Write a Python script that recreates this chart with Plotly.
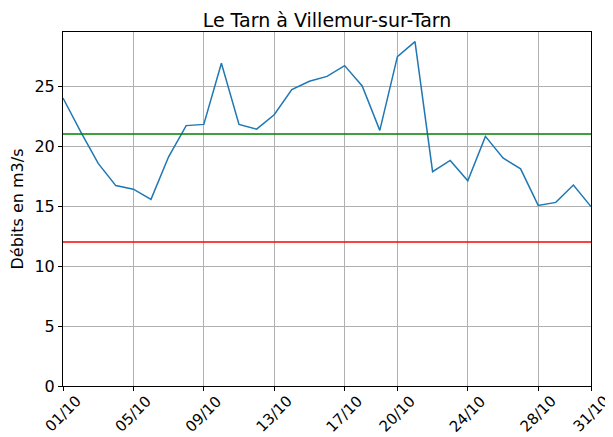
import plotly.graph_objects as go
import pandas as pd

dates = pd.date_range("2023-10-01", "2023-10-31", freq="D")
debits = [24.0, 21.2, 18.55, 16.7, 16.4, 15.55, 19.1, 21.7, 21.8, 26.9,
          21.8, 21.4, 22.6, 24.7, 25.4, 25.8, 26.7, 25.0, 21.3, 27.45,
          28.7, 17.86, 18.8, 17.1, 20.8, 19.0, 18.1, 15.05, 15.3, 16.75, 14.95]
seuil_haut = 21.0
seuil_bas = 12.0
tick_dates = ["2023-10-01", "2023-10-05", "2023-10-09", "2023-10-13", "2023-10-17",
              "2023-10-20", "2023-10-24", "2023-10-28", "2023-10-31"]
tick_labels = ["01/10", "05/10", "09/10", "13/10", "17/10", "20/10", "24/10", "28/10", "31/10"]
y_ticks = [0, 5, 10, 15, 20, 25]

font = "DejaVu Sans"
fig = go.Figure()
fig.add_trace(go.Scatter(x=dates, y=debits, mode="lines",
                         line=dict(color="#1f77b4", width=1.5), showlegend=False))
fig.add_trace(go.Scatter(x=[dates[0], dates[-1]], y=[seuil_haut, seuil_haut], mode="lines",
                         line=dict(color="green", width=1.5), showlegend=False))
fig.add_trace(go.Scatter(x=[dates[0], dates[-1]], y=[seuil_bas, seuil_bas], mode="lines",
                         line=dict(color="red", width=1.5), showlegend=False))

# rotated date labels, centred under their ticks (matplotlib style)
for d, lab in zip(tick_dates, tick_labels):
    fig.add_annotation(x=pd.Timestamp(d), xref="x", y=0, yref="paper",
                       text=lab, textangle=-45, showarrow=False,
                       xanchor="center", yanchor="top", yshift=-4,
                       font=dict(size=15, family=font, color="black"))

# page body has an 8px margin: the figure is sized to fill the rest of the window
fig.update_layout(
    width=605, height=429,
    margin=dict(l=55, r=22, t=24, b=51),
    paper_bgcolor="white", plot_bgcolor="white",
    font=dict(family=font, size=16, color="black"),
    title=dict(text="Le Tarn à Villemur-sur-Tarn", xref="paper", x=0.5, xanchor="center",
               y=0.972, yanchor="middle", automargin=False,
               font=dict(size=19, family=font, color="black")),
)
fig.update_xaxes(
    range=[dates[0], dates[-1]], automargin=False,
    tickvals=pd.to_datetime(tick_dates), showticklabels=False,
    showgrid=True, gridcolor="#b0b0b0", gridwidth=0.8,
    showline=True, linecolor="black", linewidth=1, mirror=True,
    ticks="outside", ticklen=4, tickcolor="black", zeroline=False,
)
fig.update_yaxes(
    range=[0, 29.5], tickvals=y_ticks, automargin=False,
    title=dict(text="Débits en m3/s", font=dict(size=16, family=font), standoff=8),
    showgrid=True, gridcolor="#b0b0b0", gridwidth=0.8,
    showline=True, linecolor="black", linewidth=1, mirror=True,
    ticks="outside", ticklen=4, tickcolor="black", zeroline=False,
    tickfont=dict(size=16, family=font),
)
fig.write_html("out.html")
